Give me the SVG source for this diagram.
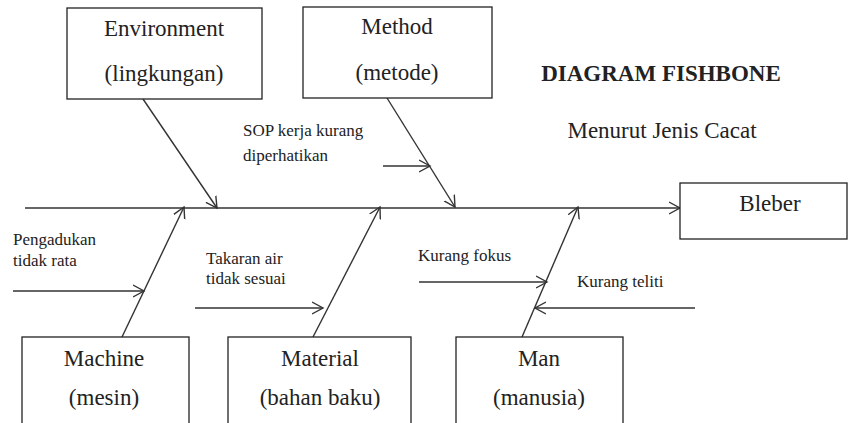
<svg xmlns="http://www.w3.org/2000/svg" width="852" height="423" viewBox="0 0 852 423">
<style>
.box{fill:#fff;stroke:#222;stroke-width:1.3}
.big{font-family:"Liberation Serif","Times New Roman",Tinos,"DejaVu Serif",serif;font-size:23px;fill:#222;text-anchor:middle}
.small{font-family:"Liberation Serif","Times New Roman",Tinos,"DejaVu Serif",serif;font-size:17px;fill:#222}
.ttl{font-family:"Liberation Serif","Times New Roman",Tinos,"DejaVu Serif",serif;font-size:23px;fill:#222;text-anchor:middle}
.ln{stroke:#333;stroke-width:1.4;fill:none;marker-end:url(#ah)}
</style>
<defs>
<marker id="ah" markerUnits="userSpaceOnUse" markerWidth="14" markerHeight="14" refX="11" refY="6" orient="auto" viewBox="0 0 14 12">
<path d="M0,0 L11,6 L0,12" fill="none" stroke="#333" stroke-width="1.4"/>
</marker>
</defs>
<rect width="852" height="423" fill="#fff"/>
<g id="connectors">
<line class="ln" x1="25" y1="208" x2="680" y2="208"/>
<line class="ln" x1="143" y1="99" x2="217" y2="208"/>
<line class="ln" x1="387" y1="98" x2="455" y2="207"/>
<line class="ln" x1="383" y1="166" x2="430" y2="166"/>
<line class="ln" x1="122" y1="337" x2="184" y2="207"/>
<line class="ln" x1="13" y1="291" x2="144" y2="291"/>
<line class="ln" x1="313" y1="337" x2="380" y2="207"/>
<line class="ln" x1="195" y1="308" x2="323" y2="308"/>
<line class="ln" x1="522" y1="337" x2="578" y2="207"/>
<line class="ln" x1="419" y1="282" x2="547" y2="282"/>
<line class="ln" x1="695" y1="308" x2="535" y2="308"/>
</g>
<g id="environment">
<rect class="box" x="67" y="8" width="195" height="91"/>
<text class="big" x="164" y="36">Environment</text>
<text class="big" x="164" y="81">(lingkungan)</text>
</g>
<g id="method">
<rect class="box" x="303" y="7" width="189" height="91"/>
<text class="big" x="397" y="34">Method</text>
<text class="big" x="397" y="80">(metode)</text>
</g>
<g id="title">
<text class="ttl" x="661" y="81" font-weight="bold">DIAGRAM FISHBONE</text>
<text class="ttl" x="662" y="138">Menurut Jenis Cacat</text>
</g>
<g id="bleber">
<rect class="box" x="680" y="183" width="167" height="56"/>
<text class="big" x="770" y="211">Bleber</text>
</g>
<g id="machine">
<rect class="box" x="22" y="337" width="167" height="95"/>
<text class="big" x="104" y="366">Machine</text>
<text class="big" x="104" y="405">(mesin)</text>
</g>
<g id="material">
<rect class="box" x="228" y="337" width="183" height="95"/>
<text class="big" x="320" y="366">Material</text>
<text class="big" x="320" y="405">(bahan baku)</text>
</g>
<g id="man">
<rect class="box" x="456" y="337" width="167" height="95"/>
<text class="big" x="539" y="366">Man</text>
<text class="big" x="539" y="405">(manusia)</text>
</g>
<g id="labels">
<text class="small" x="243" y="136">SOP kerja kurang</text>
<text class="small" x="243" y="161">diperhatikan</text>
<text class="small" x="13" y="245">Pengadukan</text>
<text class="small" x="13" y="266">tidak rata</text>
<text class="small" x="206" y="264">Takaran air</text>
<text class="small" x="206" y="284">tidak sesuai</text>
<text class="small" x="418" y="261">Kurang fokus</text>
<text class="small" x="577" y="287">Kurang teliti</text>
</g>
</svg>
